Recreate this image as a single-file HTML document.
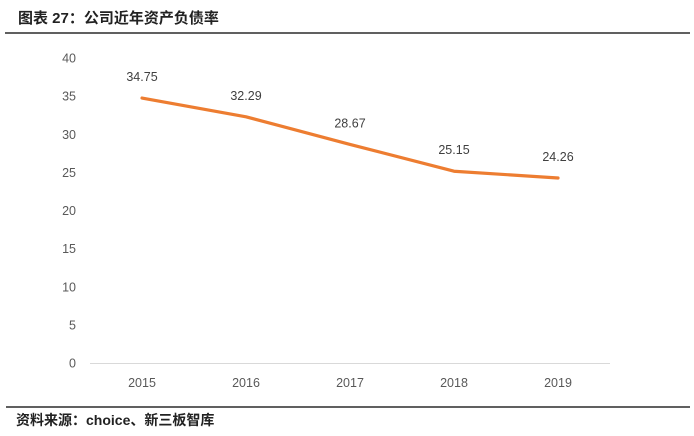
<!DOCTYPE html>
<html><head><meta charset="utf-8"><style>
html,body{margin:0;padding:0;background:#fff;width:694px;height:436px;overflow:hidden}
text{font-family:"Liberation Sans","Noto Sans CJK SC",sans-serif}
</style></head><body>
<svg id="chart" width="694" height="436" xmlns="http://www.w3.org/2000/svg">
<text x="18" y="23" font-size="15" font-weight="bold" fill="#222">图表 27：公司近年资产负债率</text>
<line x1="5" y1="33" x2="690" y2="33" stroke="#000" stroke-width="1.2"/>
<line x1="90" y1="363.5" x2="610" y2="363.5" stroke="#d9d9d9" stroke-width="1"/>
<g id="yticks"></g>
<g id="xticks"></g>
<g id="series"></g>
<line x1="6" y1="407" x2="690" y2="407" stroke="#000" stroke-width="1.2"/>
<text x="16" y="425" font-size="14" font-weight="bold" fill="#222">资料来源：choice、新三板智库</text>
</svg>
<script>
const categories = ["2015","2016","2017","2018","2019"];
const values = [34.75, 32.29, 28.67, 25.15, 24.26];
const yTicks = [0,5,10,15,20,25,30,35,40];
const NS="http://www.w3.org/2000/svg";
const x0=90,x1=610,yBot=363,yTop=58,yMax=40;
function xPos(i){const bw=(x1-x0)/categories.length;return x0+bw*(i+0.5);}
function yPos(v){return yBot-(v/yMax)*(yBot-yTop);}
function mk(tag,attrs,parent){const e=document.createElementNS(NS,tag);for(const k in attrs)e.setAttribute(k,attrs[k]);parent.appendChild(e);return e;}
const yg=document.getElementById('yticks');
yTicks.forEach(t=>{const e=mk('text',{x:76,y:yPos(t)+4.5,'text-anchor':'end','font-size':'12.5',fill:'#595959'},yg);


e.textContent=t;});
const xg=document.getElementById('xticks');
categories.forEach((c,i)=>{const e=mk('text',{x:xPos(i),y:387,'text-anchor':'middle','font-size':'12.5',fill:'#595959'},xg);


e.textContent=c;});
const sg=document.getElementById('series');
const pts=values.map((v,i)=>xPos(i)+','+yPos(v)).join(' ');
const pl=mk('polyline',{points:pts,fill:'none',stroke:'#ED7D31','stroke-width':3.2,'stroke-linejoin':'round','stroke-linecap':'round'},sg);


values.forEach((v,i)=>{const e=mk('text',{x:xPos(i),y:yPos(v)-17,'text-anchor':'middle','font-size':'12.5',fill:'#404040'},sg);


e.textContent=v.toFixed(2);});
</script>
</body></html>
